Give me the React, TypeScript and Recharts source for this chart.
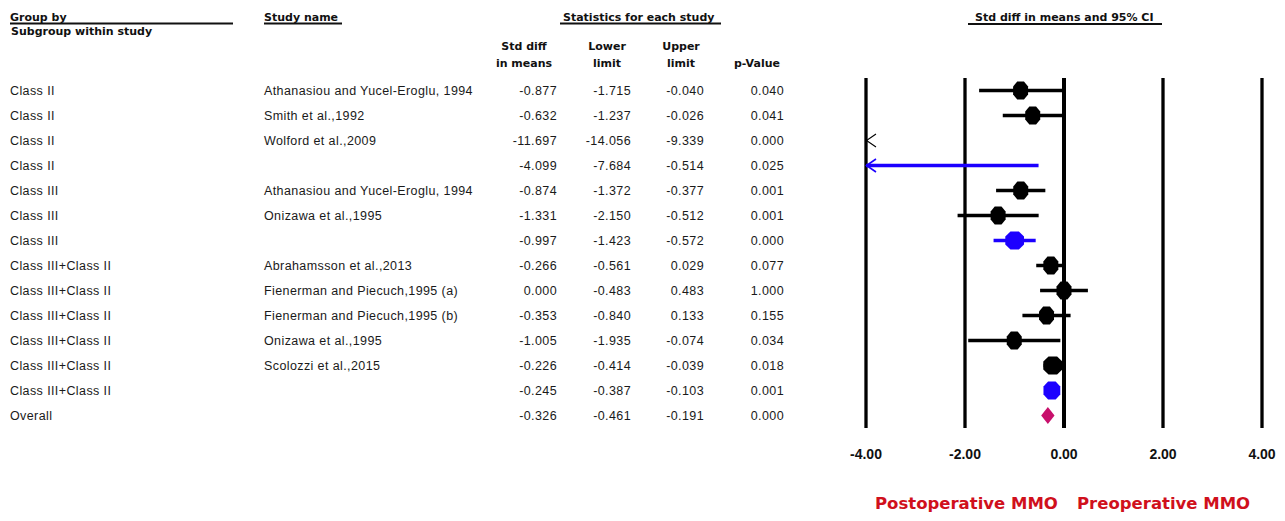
import React from 'react';
import { ScatterChart, Scatter, XAxis, YAxis, ReferenceLine, ReferenceDot } from 'recharts';

// ---------- data ----------
const groups = [
  'Class II', 'Class II', 'Class II', 'Class II',
  'Class III', 'Class III', 'Class III',
  'Class III+Class II', 'Class III+Class II', 'Class III+Class II', 'Class III+Class II',
  'Class III+Class II', 'Class III+Class II',
  'Overall',
];
const studies = [
  'Athanasiou and Yucel-Eroglu, 1994', 'Smith et al.,1992', 'Wolford et al.,2009', '',
  'Athanasiou and Yucel-Eroglu, 1994', 'Onizawa et al.,1995', '',
  'Abrahamsson et al.,2013', 'Fienerman and Piecuch,1995 (a)', 'Fienerman and Piecuch,1995 (b)',
  'Onizawa et al.,1995', 'Scolozzi et al.,2015', '',
  '',
];
const rowKind = [
  'study', 'study', 'study', 'subgroup',
  'study', 'study', 'subgroup',
  'study', 'study', 'study', 'study', 'study', 'subgroup',
  'overall',
];
const stdDiff = [-0.877, -0.632, -11.697, -4.099, -0.874, -1.331, -0.997, -0.266, 0.0, -0.353, -1.005, -0.226, -0.245, -0.326];
const lowerLimit = [-1.715, -1.237, -14.056, -7.684, -1.372, -2.15, -1.423, -0.561, -0.483, -0.84, -1.935, -0.414, -0.387, -0.461];
const upperLimit = [-0.04, -0.026, -9.339, -0.514, -0.377, -0.512, -0.572, 0.029, 0.483, 0.133, -0.074, -0.039, -0.103, -0.191];
const pValue = [0.04, 0.041, 0.0, 0.025, 0.001, 0.001, 0.0, 0.077, 1.0, 0.155, 0.034, 0.018, 0.001, 0.0];
// estimated relative weight (box size) of each row
const relWeight = [1, 1, 1, 1, 1, 1, 1.25, 1, 1, 1, 1, 1.27, 1.12, 1];

const xTicks = [-4, -2, 0, 2, 4];
const X_MIN = -4;
const X_MAX = 4;

// ---------- derived ----------
const rows = groups.map((g, i) => ({
  row: i,
  group: g,
  study: studies[i],
  kind: rowKind[i],
  est: stdDiff[i],
  lo: lowerLimit[i],
  hi: upperLimit[i],
  p: pValue[i],
  weight: relWeight[i],
}));
const rowTicks = rows.map((r) => r.row);
const points = rows
  .filter((r) => r.kind !== 'overall' && r.est >= X_MIN && r.est <= X_MAX)
  .map((r) => ({ x: r.est, row: r.row, kind: r.kind, weight: r.weight }));

const BLACK = '#000000';
const BLUE = '#1c00ff';
const MAGENTA = '#c8106c';
const RED = '#d0101c';

const colorOf = (kind: string) => (kind === 'subgroup' ? BLUE : BLACK);

const octagon = (cx: number, cy: number, w: number, h: number) => {
  const a = w / 2;
  const b = h / 2;
  const k = 0.45;
  return [
    [cx - a * k, cy - b], [cx + a * k, cy - b], [cx + a, cy - b * k], [cx + a, cy + b * k],
    [cx + a * k, cy + b], [cx - a * k, cy + b], [cx - a, cy + b * k], [cx - a, cy - b * k],
  ].map((p) => p.join(',')).join(' ');
};

const MarkerShape = (props: any) => {
  const { cx, cy, payload } = props;
  if (cx == null || cy == null) return null;
  const w = 15 * (payload.weight || 1);
  return <polygon points={octagon(cx, cy, w, 18)} fill={colorOf(payload.kind)} />;
};

const fmt = (v: number) => v.toFixed(3);

const TableTick = (props: any) => {
  const { y, payload } = props;
  const r = rows[payload.value];
  if (!r) return null;
  const dy = 4.8;
  return (
    <g fontFamily="'Liberation Sans', Arial, sans-serif" fontSize={12.5} fill="#1a1a1a" letterSpacing={0.4}>
      <text x={10} y={y + dy}>{r.group}</text>
      <text x={264} y={y + dy}>{r.study}</text>
      <text x={557} y={y + dy} textAnchor="end">{fmt(r.est)}</text>
      <text x={631} y={y + dy} textAnchor="end">{fmt(r.lo)}</text>
      <text x={704} y={y + dy} textAnchor="end">{fmt(r.hi)}</text>
      <text x={784} y={y + dy} textAnchor="end">{fmt(r.p)}</text>
    </g>
  );
};

const Chevron = (color: string, sw: number) => (props: any) => {
  const { cx, cy } = props;
  if (cx == null || cy == null) return null;
  return (
    <polyline
      points={`${cx + 10},${cy - 6.5} ${cx + 0.5},${cy} ${cx + 10},${cy + 6.5}`}
      fill="none"
      stroke={color}
      strokeWidth={sw}
    />
  );
};

const DiamondShape = (props: any) => {
  const { x1, x2, y1 } = props;
  if (x1 == null || x2 == null || y1 == null) return null;
  const mid = (x1 + x2) / 2;
  return <polygon points={`${x1},${y1} ${mid},${y1 - 8.5} ${x2},${y1} ${mid},${y1 + 8.5}`} fill={MAGENTA} />;
};

const headerFont = "'DejaVu Sans', Verdana, sans-serif";

export default function App() {
  return (
    <div style={{ position: 'absolute', left: 0, top: 0, width: 1285, height: 521, background: '#fff' }}>
      <ScatterChart
        width={1285}
        height={521}
        margin={{ top: 78, right: 23, bottom: 53, left: 0 }}
      >
        <XAxis
          type="number"
          dataKey="x"
          domain={[X_MIN, X_MAX]}
          allowDataOverflow
          ticks={xTicks}
          interval={0}
          tickFormatter={(v: number) => v.toFixed(2)}
          axisLine={false}
          tickLine={false}
          tickMargin={15}
          height={40}
          tick={{ fontFamily: "'Liberation Sans', Arial, sans-serif", fontWeight: 700, fontSize: 14, fill: '#111' }}
        />
        <YAxis
          type="number"
          dataKey="row"
          domain={[-0.5, 13.5]}
          allowDataOverflow
          reversed
          ticks={rowTicks}
          interval={0}
          axisLine={false}
          tickLine={false}
          width={866}
          tick={<TableTick />}
        />
        {xTicks.map((t) => (
          <ReferenceLine
            key={`v${t}`}
            x={t}
            stroke={BLACK}
            strokeWidth={t === 0 ? 4 : 3.3}
            ifOverflow="visible"
          />
        ))}
        {rows
          .filter((r) => r.kind !== 'overall' && r.hi >= X_MIN && r.lo <= X_MAX)
          .map((r) => (
            <ReferenceLine
              key={`ci${r.row}`}
              segment={[
                { x: Math.max(r.lo, X_MIN), y: r.row },
                { x: Math.min(r.hi, X_MAX), y: r.row },
              ]}
              stroke={colorOf(r.kind)}
              strokeWidth={r.kind === 'subgroup' ? 3.3 : 3.5}
              ifOverflow="visible"
            />
          ))}
        {rows
          .filter((r) => r.lo < X_MIN)
          .map((r) => (
            <ReferenceDot
              key={`ar${r.row}`}
              x={X_MIN}
              y={r.row}
              r={1}
              ifOverflow="visible"
              shape={Chevron(colorOf(r.kind), r.kind === 'subgroup' ? 1.6 : 1.1)}
            />
          ))}
        {rows
          .filter((r) => r.kind === 'overall')
          .map((r) => (
            <ReferenceLine
              key={`ov${r.row}`}
              segment={[
                { x: r.lo, y: r.row },
                { x: r.hi, y: r.row },
              ]}
              ifOverflow="visible"
              shape={DiamondShape}
            />
          ))}
        <Scatter data={points} isAnimationActive={false} shape={<MarkerShape />} />
      </ScatterChart>

      <svg
        width={1285}
        height={521}
        style={{ position: 'absolute', left: 0, top: 0, pointerEvents: 'none' }}
      >
        <g fontFamily={headerFont} fontWeight={700} fontSize={11} fill="#111">
          <text x={10} y={20.5}>Group by</text>
          <text x={11} y={35}>Subgroup within study</text>
          <text x={264} y={20.5}>Study name</text>
          <text x={563} y={20.5}>Statistics for each study</text>
          <text x={524} y={50} textAnchor="middle">Std diff</text>
          <text x={524} y={67} textAnchor="middle">in means</text>
          <text x={607} y={50} textAnchor="middle">Lower</text>
          <text x={607} y={67} textAnchor="middle">limit</text>
          <text x={681} y={50} textAnchor="middle">Upper</text>
          <text x={681} y={67} textAnchor="middle">limit</text>
          <text x={757} y={67} textAnchor="middle">p-Value</text>
          <text x={975} y={20.5}>Std diff in means and 95% CI</text>
        </g>
        <g stroke="#111" strokeWidth={1.8}>
          <line x1={10} x2={233} y1={23.5} y2={23.5} />
          <line x1={264} x2={342} y1={23.5} y2={23.5} />
          <line x1={560} x2={721} y1={23.5} y2={23.5} />
          <line x1={968} x2={1162} y1={24} y2={24} />
        </g>
        <g fontFamily={headerFont} fontWeight={700} fontSize={16.5} fill={RED}>
          <text x={875} y={509}>Postoperative MMO</text>
          <text x={1077} y={509}>Preoperative MMO</text>
        </g>
      </svg>
    </div>
  );
}
